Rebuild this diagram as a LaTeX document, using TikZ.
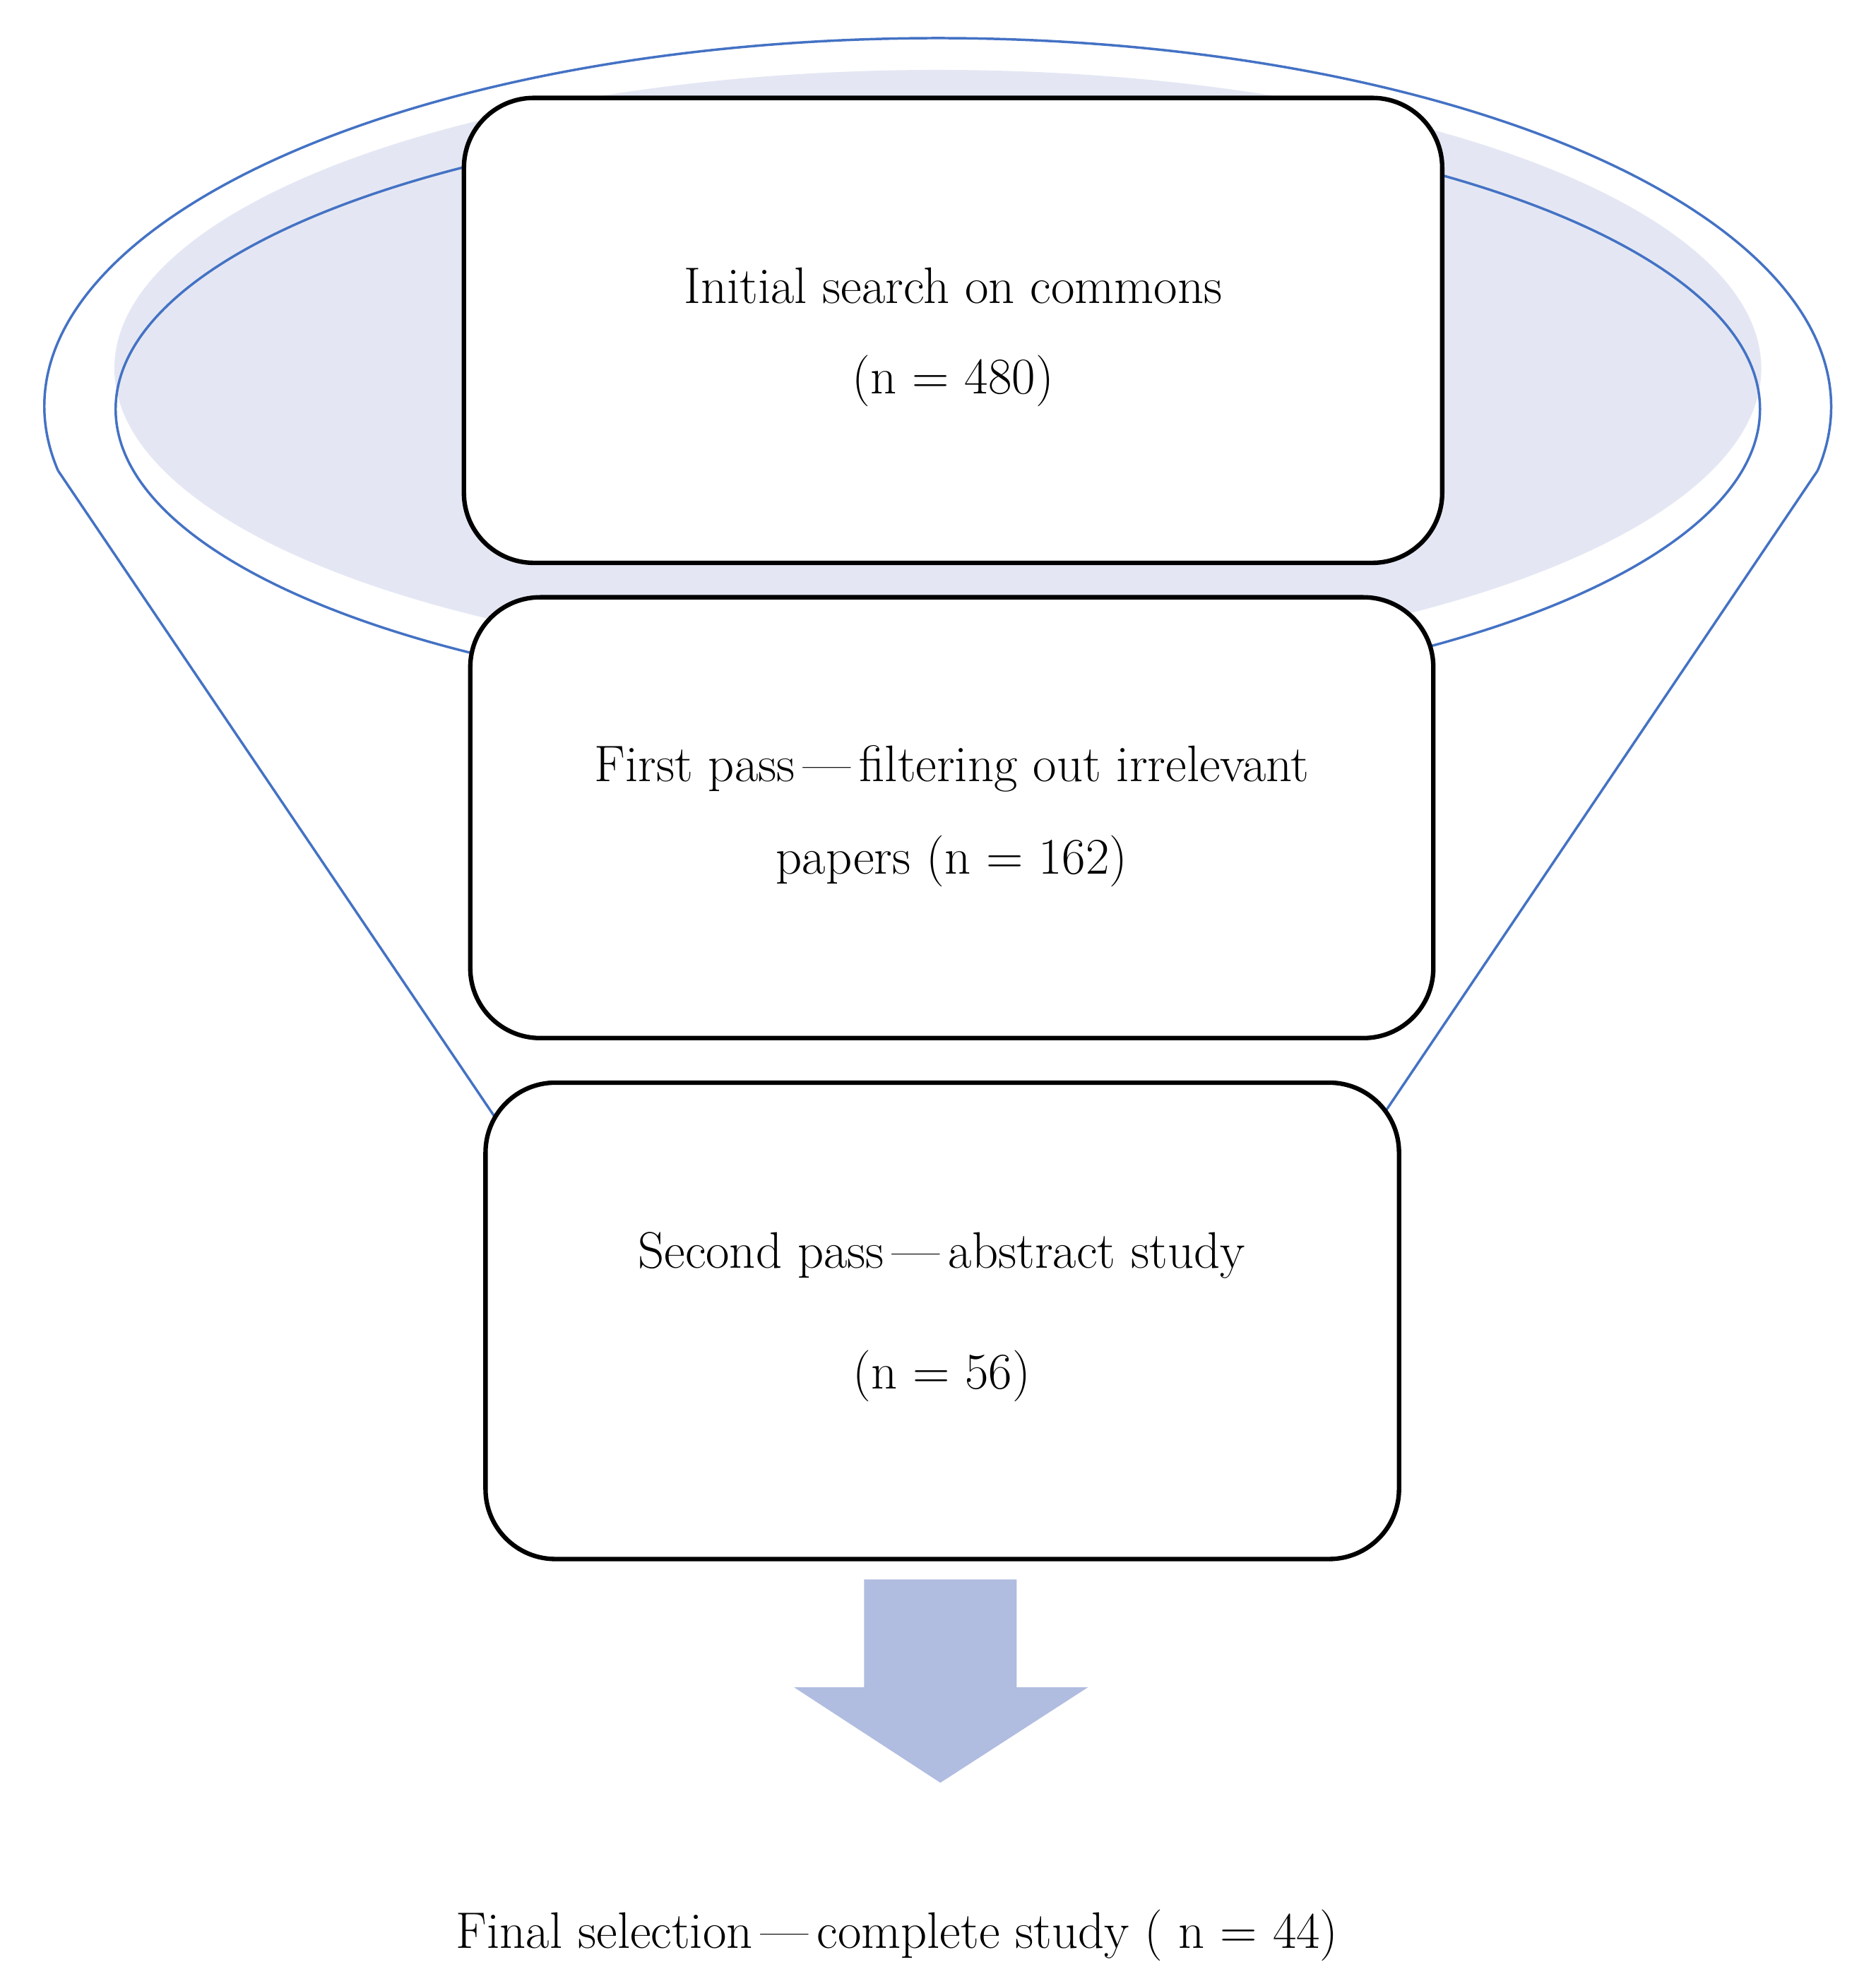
\documentclass[tikz,border=0pt]{standalone}
\usepackage{tikz}
\usetikzlibrary{positioning,calc}
\definecolor{funnelblue}{HTML}{4472C4}
\definecolor{funnelfill}{HTML}{E4E7F3}
\definecolor{arrowfill}{HTML}{B0BCE0}
\tikzset{
  stage/.style={draw,line width=2pt,rounded corners=1.1cm,fill=white},
  rim/.style={draw=funnelblue,line width=1.1pt},
  lbl/.style={font=\fontsize{23}{27}\selectfont,align=center}
}
\begin{document}
\begin{tikzpicture}[x=0.02cm,y=-0.02cm]
	\useasboundingbox (0,0) rectangle (1476,1563);
	
	% funnel
	\fill[funnelfill] (738,290) ellipse [x radius=648,y radius=235];
	\draw[rim] (738,322) ellipse [x radius=647,y radius=233];
	\draw[rim] (738,320) ++(190:703 and -290) arc [start angle=190,end angle=-10,x radius=703,y radius=-290];
	\coordinate (lt) at ($(738,320)+(190:703 and -290)$);
	\coordinate (lb) at (390,880);
	\coordinate (rt) at ($(738,320)+(-10:703 and -290)$);
	\coordinate (rb) at (1090,875);
	\draw[rim] (lt) -- (lb);
	\draw[rim] (rt) -- (rb);
	
	% stages
	\node[stage,minimum width=15.4cm,minimum height=7.32cm] (s1) at (750,260) {};
	\node[stage,minimum width=15.16cm,minimum height=6.94cm] (s2) at (749,643.5) {};
	\node[stage,minimum width=14.38cm,minimum height=7.5cm] (s3) at (741.5,1039.5) {};
	\node[lbl] (t1a) at (750,225) {Initial search on commons};
	\node[lbl] (t1b) at (750,300) {(n = 480)};
	\node[lbl] (t2a) at (749,605) {First pass\,---\,filtering out irrelevant};
	\node[lbl] (t2b) at (749,678) {papers (n = 162)};
	\node[lbl] (t3a) at (741,988) {Second pass\,---\,abstract study};
	\node[lbl] (t3b) at (741,1083) {(n = 56)};
	
	% result
	\fill[arrowfill] (680,1243) -- (800,1243) -- (800,1328) -- (856,1328) -- (740,1403) -- (625,1328) -- (680,1328) -- cycle;
	\node[lbl] (fin) at (706,1523) {Final selection\,---\,complete study ( n = 44)};
\end{tikzpicture}
\end{document}
